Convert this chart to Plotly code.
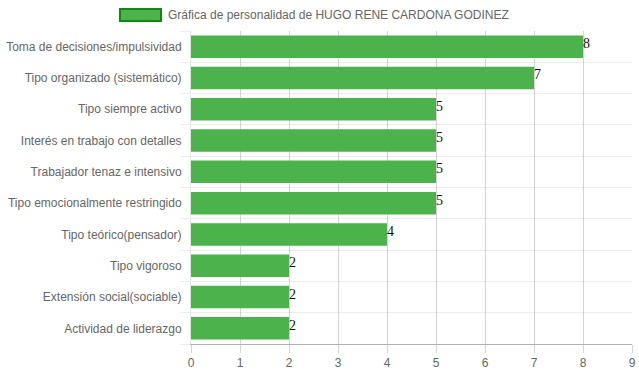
import plotly.graph_objects as go

categories = [
    "Toma de decisiones/impulsividad",
    "Tipo organizado (sistemático)",
    "Tipo siempre activo",
    "Interés en trabajo con detalles",
    "Trabajador tenaz e intensivo",
    "Tipo emocionalmente restringido",
    "Tipo teórico(pensador)",
    "Tipo vigoroso",
    "Extensión social(sociable)",
    "Actividad de liderazgo",
]
values = [8, 7, 5, 5, 5, 5, 4, 2, 2, 2]
series_name = "Gráfica de personalidad de HUGO RENE CARDONA GODINEZ"
x_ticks = list(range(0, 10))

pos = list(range(len(categories)))
bounds = [p - 0.5 for p in pos] + [len(categories) - 0.5]

W, H = 639, 372
L, R, T, B = 191, 7, 31, 28

fig = go.Figure()
fig.add_trace(go.Bar(
    y=pos, x=values, orientation="h", width=0.72,
    marker=dict(color="#4CB34C", line=dict(width=0)),
    showlegend=False, hoverinfo="skip",
))

for p, v in zip(pos, values):
    fig.add_annotation(x=v, y=p, xref="x", yref="y", text=str(v),
                       showarrow=False, xanchor="left", yanchor="middle",
                       xshift=-1, yshift=3, borderpad=0,
                       font=dict(family="Liberation Serif", size=14, color="#111"))

fig.update_layout(
    width=W, height=H,
    margin=dict(l=L, r=R, t=T, b=B, pad=0, autoexpand=False),
    paper_bgcolor="white", plot_bgcolor="white",
    font=dict(family="Liberation Sans", size=12, color="#666"),
    xaxis=dict(
        range=[0, 9], tickvals=x_ticks, showgrid=True, automargin=False,
        gridcolor="rgba(0,0,0,0.17)", gridwidth=1, layer="above traces",
        ticks="outside", ticklen=8, tickcolor="rgba(0,0,0,0.17)",
        showline=True, linecolor="rgba(0,0,0,0.3)", linewidth=1,
        zeroline=False, tickfont=dict(size=12, color="#666"),
    ),
    yaxis=dict(
        range=[len(categories) - 0.5, -0.5], automargin=False,
        tickmode="array", tickvals=pos, ticktext=categories,
        showgrid=False, zeroline=False, ticks="", ticklen=0,
        showline=True, linecolor="rgba(0,0,0,0.1)",
        ticklabelstandoff=6,
        minor=dict(tickmode="array", tickvals=bounds, showgrid=True,
                   gridcolor="rgba(0,0,0,0.07)", ticks="outside",
                   ticklen=10, tickcolor="rgba(0,0,0,0.07)"),
        tickfont=dict(size=12, color="#666"),
    ),
)

# legend drawn as a box + text (Chart.js style)
fig.add_shape(type="rect", xref="paper", yref="paper",
              x0=(120 - L) / (W - L - R), x1=(161 - L) / (W - L - R),
              y0=(H - B - 21) / (H - T - B), y1=(H - B - 9) / (H - T - B),
              fillcolor="#4CB34C", line=dict(color="#128812", width=2))
fig.add_annotation(xref="paper", yref="paper",
                   x=(167 - L) / (W - L - R), y=(H - B - 15) / (H - T - B),
                   xanchor="left", yanchor="middle", showarrow=False,
                   borderpad=0,
                   text=series_name, font=dict(size=12, color="#666"))

fig.write_html("out.html")
